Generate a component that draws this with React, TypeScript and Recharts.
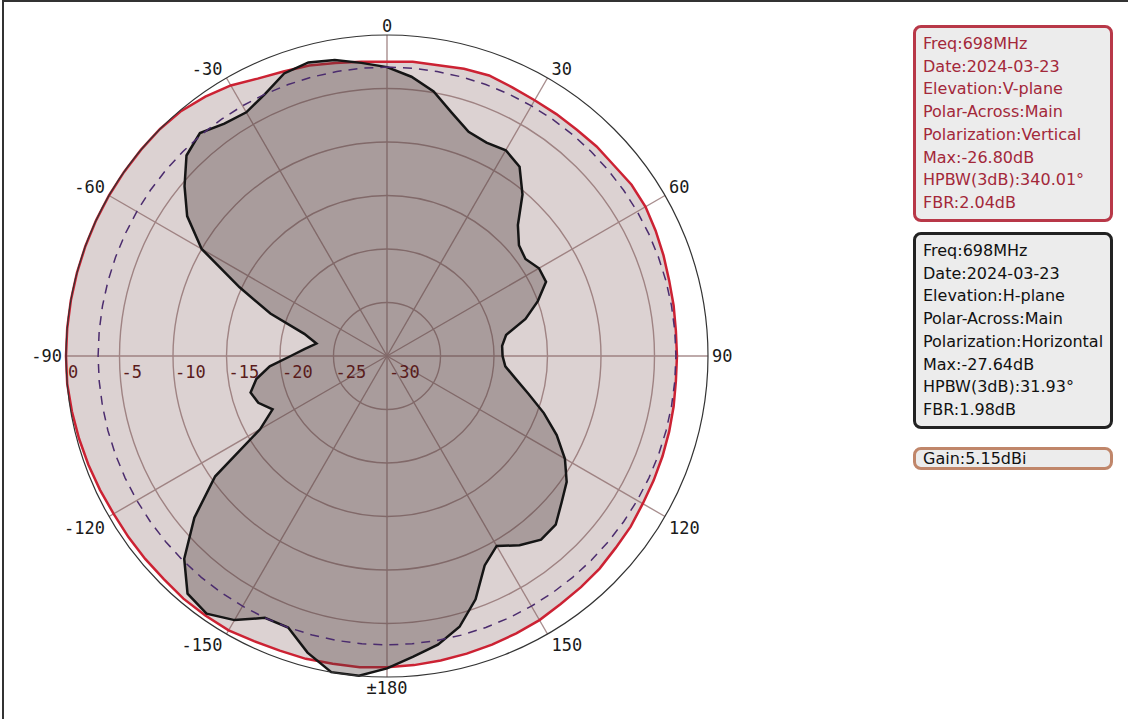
import { RadarChart, Radar, PolarGrid, PolarAngleAxis, PolarRadiusAxis } from 'recharts';

// azimuth in degrees, clockwise from the top
const ANGLES = [
  0, 5, 10, 15, 20, 25, 30, 35, 40, 45, 50, 55, 60, 65, 70, 75, 80, 85,
  90, 95, 100, 105, 110, 115, 120, 125, 130, 135, 140, 145, 150, 155, 160, 165, 170, 175,
  180, 185, 190, 195, 200, 205, 210, 215, 220, 225, 230, 235, 240, 245, 250, 255, 260, 265,
  270, 275, 280, 285, 290, 295, 300, 305, 310, 315, 320, 325, 330, 335, 340, 345, 350, 355,
];

// normalised level, dB (red trace)
const V_PLANE = [
  -2.5, -2.4, -2.4, -2.2, -2.1, -2.3, -2.4, -2.4, -2.4, -2.3, -2.3, -2.1, -2.1, -2.3, -2.5, -2.7, -2.8, -2.9,
  -2.9, -2.9, -2.8, -2.7, -2.6, -2.5, -2.4, -2.2, -2.1, -1.9, -1.8, -1.7, -1.5, -1.4, -1.3, -1.2, -1.1, -1.0,
  -0.9, -0.8, -0.8, -0.7, -0.7, -0.6, -0.4, -0.4, -0.4, -0.5, -0.5, -0.5, -0.5, -0.4, -0.3, -0.2, -0.1, 0,
  0, 0, 0, 0, 0, 0, 0, 0, 0, 0, -0.1, -0.4, -0.8, -1.4, -1.7, -1.9, -2.2, -2.4,
];

// normalised level, dB (black trace)
const H_PLANE = [
  -3.0, -3.8, -4.9, -6.5, -7.7, -8.0, -7.8, -8.4, -10.3, -12.7, -13.9, -14.2, -13.6, -13.6, -15.0, -16.6, -18.7, -19.2,
  -19.2, -18.9, -17.8, -16.3, -14.4, -12.5, -10.8, -9.5, -8.7, -7.7, -7.6, -8.4, -9.5, -8.4, -5.8, -3.8, -2.6, -1.8,
  -0.8, 0, 0, -1.3, -3.0, -3.0, -1.5, -0.6, -1.0, -3.2, -6.5, -10.4, -16.3, -18.2, -17.2, -16.8, -17.6, -19.0,
  -21.0, -22.3, -23.3, -22.0, -18.4, -14.8, -10.0, -7.2, -5.3, -3.5, -2.8, -3.5, -3.7, -3.0, -1.9, -1.6, -1.9, -2.5,
];

const HPBW_LEVEL = -3;
const RADIAL_TICKS = [-30, -25, -20, -15, -10, -5, 0];

const ANGLE_LABELS: Record<number, string> = {
  0: '0', 30: '30', 60: '60', 90: '90', 120: '120', 150: '150', 180: '±180',
  210: '-150', 240: '-120', 270: '-90', 300: '-60', 330: '-30',
};

const V_INFO = [
  'Freq:698MHz', 'Date:2024-03-23', 'Elevation:V-plane', 'Polar-Across:Main',
  'Polarization:Vertical', 'Max:-26.80dB', 'HPBW(3dB):340.01°', 'FBR:2.04dB',
];
const H_INFO = [
  'Freq:698MHz', 'Date:2024-03-23', 'Elevation:H-plane', 'Polar-Across:Main',
  'Polarization:Horizontal', 'Max:-27.64dB', 'HPBW(3dB):31.93°', 'FBR:1.98dB',
];
const GAIN = 'Gain:5.15dBi';

const CX = 387;
const CY = 356;
const R = 321;
const LABEL_FONT = '"DejaVu Sans Mono", monospace';

const data = ANGLES.map((angle, i) => ({ angle, v: V_PLANE[i], h: H_PLANE[i], ref: HPBW_LEVEL }));

const AngleTick = (props: any) => {
  const value = props.payload?.value;
  const label = ANGLE_LABELS[value];
  if (label === undefined) return <g />;
  const rad = (value * Math.PI) / 180;
  const s = Math.sin(rad);
  const c = Math.cos(rad);
  const x = CX + R * s;
  const y = CY - R * c;
  const anchor = s > 0.01 ? 'start' : s < -0.01 ? 'end' : 'middle';
  const tx = anchor === 'start' ? x + 4 : anchor === 'end' ? x - 4 : x;
  const ty = c > 0.01 ? y - 3 : c < -0.01 ? y + 17 : y + 6;
  return (
    <text x={tx} y={ty} textAnchor={anchor} fontSize={17} fontFamily={LABEL_FONT} fill="#1a1a1a">
      {label}
    </text>
  );
};

const RadiusTick = (props: any) => (
  <text x={props.x + 2} y={props.y + 22} fontSize={17} fontFamily={LABEL_FONT} fill="#5a1c1c">
    {props.payload?.value}
  </text>
);

const InfoBox = ({ lines, color, textColor, top }: { lines: string[]; color: string; textColor: string; top: number }) => (
  <div
    style={{
      position: 'absolute', left: 913, top, width: 200, boxSizing: 'border-box',
      border: `3px solid ${color}`, borderRadius: 8, background: '#ececec',
      padding: '5px 0 4px 7px', color: textColor,
      fontFamily: '"DejaVu Sans", sans-serif', fontSize: 16, lineHeight: '22.7px', whiteSpace: 'nowrap',
    }}
  >
    {lines.map((l) => <div key={l}>{l}</div>)}
  </div>
);

export default function App() {
  return (
    <div style={{ position: 'absolute', left: 0, top: 0, width: 1128, height: 719, background: '#fff', overflow: 'hidden' }}>
      <div style={{ position: 'absolute', left: 2, top: 0, width: 1126, height: 719, borderTop: '2px solid #333', borderLeft: '2px solid #333' }} />
      <div style={{ position: 'absolute', left: 0, top: 0 }}>
        <RadarChart
          width={900}
          height={719}
          cx={CX}
          cy={CY}
          outerRadius={R}
          startAngle={90}
          endAngle={-270}
          data={data}
          margin={{ top: 0, right: 0, bottom: 0, left: 0 }}
        >
          <PolarGrid
            gridType="circle"
            polarRadius={[R / 6, (2 * R) / 6, (3 * R) / 6, (4 * R) / 6, (5 * R) / 6]}
            polarAngles={[90, 60, 30, 0, -30, -60, -90, -120, -150, 180, 150, 120]}
            stroke="#a88e8e"
            strokeWidth={1.4}
          />
          <PolarRadiusAxis
            angle={180}
            type="number"
            domain={[-30, 0]}
            ticks={RADIAL_TICKS}
            tickCount={7}
            tick={RadiusTick}
            axisLine={false}
          />
          <PolarAngleAxis
            dataKey="angle"
            tick={AngleTick}
            tickLine={false}
            axisLineType="circle"
            axisLine={{ stroke: '#333', strokeWidth: 1.2 }}
            stroke="#333"
          />
          <Radar dataKey="v" stroke="#cc2233" strokeWidth={2.5} fill="#8c6a6a" fillOpacity={0.3} dot={false} isAnimationActive={false} />
          <Radar dataKey="h" stroke="#151515" strokeWidth={2.5} fill="#4a3a3a" fillOpacity={0.35} dot={false} isAnimationActive={false} />
          <Radar dataKey="ref" stroke="#4b2c6e" strokeWidth={1.5} strokeDasharray="9 7" fill="none" fillOpacity={0} dot={false} isAnimationActive={false} />
        </RadarChart>
      </div>
      <InfoBox lines={V_INFO} color="#b83848" textColor="#a3283a" top={25} />
      <InfoBox lines={H_INFO} color="#222" textColor="#111" top={232} />
      <div
        style={{
          position: 'absolute', left: 913, top: 447, width: 200, height: 23, boxSizing: 'border-box',
          border: '3px solid #c0866a', borderRadius: 8, background: '#ececec', paddingLeft: 7,
          fontFamily: '"DejaVu Sans", sans-serif', fontSize: 16, lineHeight: '17px', color: '#111',
        }}
      >
        {GAIN}
      </div>
    </div>
  );
}
